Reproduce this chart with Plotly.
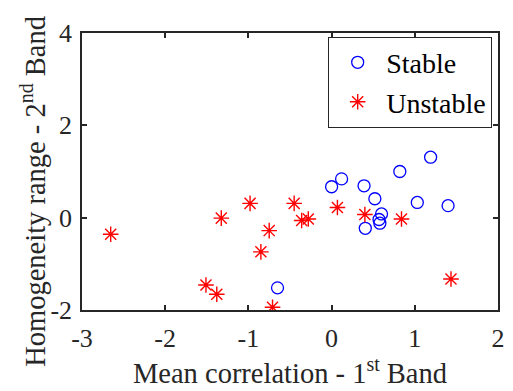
import plotly.graph_objects as go

stable_x = [0.00, 0.12, 0.39, 0.52, 0.60, 0.57, 0.58, 0.405, 1.03, 1.40, 0.82, -0.65, 1.19]
stable_y = [0.67, 0.84, 0.69, 0.41, 0.08, -0.04, -0.12, -0.23, 0.33, 0.26, 1.00, -1.52, 1.31]

unstable_x = [-2.655, -1.326, -0.98, -1.51, -1.38, -0.85, -0.75, -0.45, -0.36, -0.28, 0.07, 0.40, 0.84, 1.435, -0.71]
unstable_y = [-0.36, -0.01, 0.31, -1.46, -1.66, -0.74, -0.28, 0.31, -0.06, -0.03, 0.22, 0.07, -0.03, -1.33, -1.94]

x_ticks = [-3, -2, -1, 0, 1, 2]
y_ticks = [-2, 0, 2, 4]

x_title = "Mean correlation - 1<sup>st</sup> Band"
y_title = "Homogeneity range - 2<sup>nd</sup> Band"

FONT = "Liberation Serif"
INK = "#262626"

fig = go.Figure()
fig.add_trace(go.Scatter(
    x=stable_x, y=stable_y, mode="markers", name="Stable",
    marker=dict(symbol="circle-open", size=12, color="#0000ff", line=dict(width=1.3, color="#0000ff")),
))
fig.add_trace(go.Scatter(
    x=unstable_x, y=unstable_y, mode="markers", name="Unstable",
    marker=dict(symbol="asterisk-open", size=13, color="#ff0000", line=dict(width=1.4, color="#ff0000")),
))

fig.update_layout(
    template="none",
    width=513, height=391,
    margin=dict(l=82, r=15, t=33, b=81),
    paper_bgcolor="white", plot_bgcolor="white",
    font=dict(family=FONT, size=26, color=INK),
    legend=dict(x=0.986, y=0.987, xanchor="right", yanchor="top",
                bordercolor=INK, borderwidth=1, bgcolor="white", itemwidth=47,
                font=dict(family=FONT, size=28, color="black")),
    showlegend=True,
)
for upd, ticks, lstand in (
    (fig.update_xaxes, x_ticks, 4),
    (fig.update_yaxes, y_ticks, 3),
):
    upd(
        showgrid=False, zeroline=False, showline=True, linecolor=INK, linewidth=1.5,
        mirror="ticks", ticks="inside", ticklen=5, tickwidth=1.5, tickcolor=INK,
        tickmode="array", tickvals=ticks, ticktext=[str(v) for v in ticks],
        tickfont_family=FONT, tickfont_size=26, tickfont_color=INK,
        ticklabelstandoff=lstand,
        automargin=False,
    )
fig.update_xaxes(range=[-3, 2], title_text=x_title, title_standoff=0,
                 title_font=dict(family=FONT, size=28.5, color=INK))
fig.update_yaxes(range=[-2, 4])

# y-axis title as a rotated annotation so it can sit slightly below the plot centre like the reference
fig.add_annotation(
    text=y_title, xref="paper", yref="paper", x=-0.118, y=0.43,
    xanchor="center", yanchor="middle", textangle=-90, showarrow=False,
    font=dict(family=FONT, size=28.5, color=INK),
)

fig.write_html("out.html")
